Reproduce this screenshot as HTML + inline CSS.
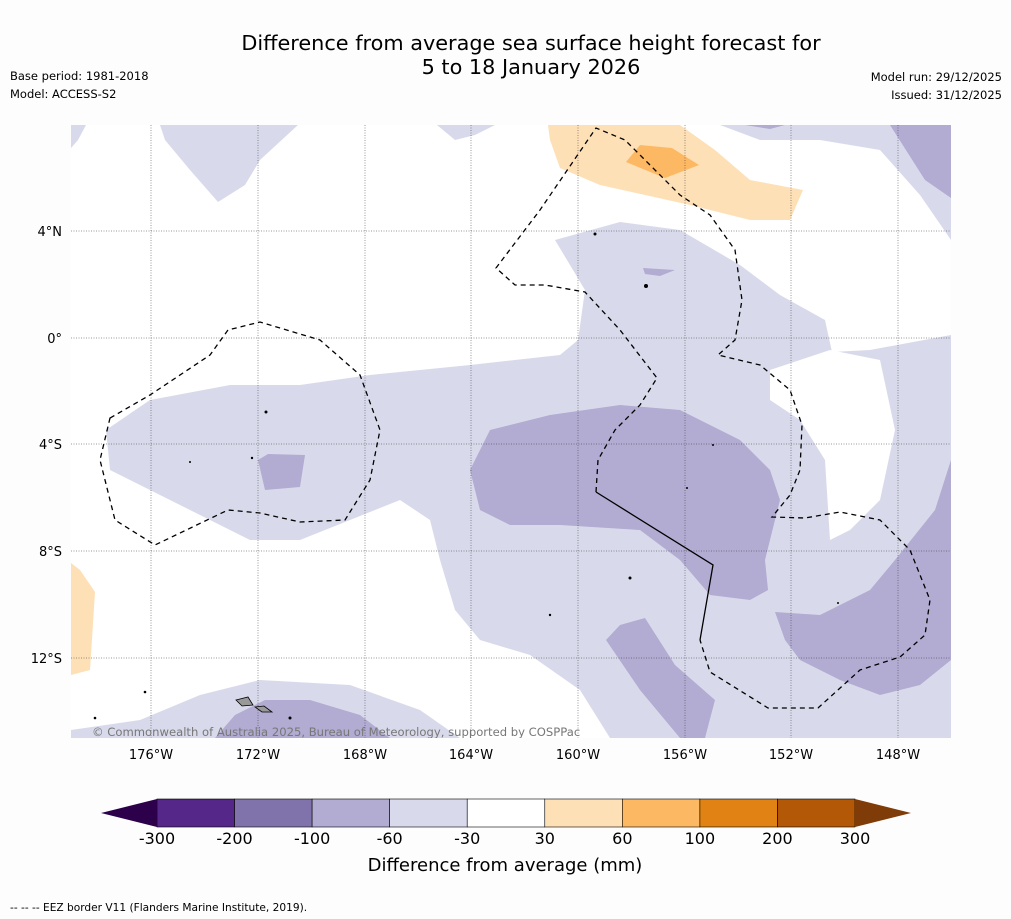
<!DOCTYPE html>
<html><head><meta charset="utf-8">
<style>
body{margin:0;background:#fff;width:1011px;height:919px;overflow:hidden;font-family:"DejaVu Sans","Liberation Sans",sans-serif}
svg{display:block}
</style></head><body>
<svg id="svg" width="1011" height="919" xmlns="http://www.w3.org/2000/svg" font-family="DejaVu Sans, Liberation Sans, sans-serif">
<rect width="1011" height="919" fill="#fdfdfd"/>
<text x="531" y="50" font-size="20.8" text-anchor="middle">Difference from average sea surface height forecast for</text>
<text x="531" y="74" font-size="20.8" text-anchor="middle">5 to 18 January 2026</text>
<text x="10" y="80" font-size="11.5">Base period: 1981-2018</text>
<text x="10" y="98" font-size="11.5">Model: ACCESS-S2</text>
<text x="1002" y="81" font-size="11.5" text-anchor="end">Model run: 29/12/2025</text>
<text x="1002" y="99" font-size="11.5" text-anchor="end">Issued: 31/12/2025</text>
<defs><clipPath id="mc"><rect x="71" y="125" width="880" height="613"/></clipPath></defs>
<g clip-path="url(#mc)">
<rect x="71" y="125" width="880" height="613" fill="#fff"/>
<g fill="#d8daeb">
<polygon points="106,430 150,400 230,385 300,385 370,375 470,365 560,355 578,340 585,290 555,240 620,222 680,230 740,265 780,295 825,320 832,352 870,350 951,335 951,738 610,738 580,690 530,655 480,640 455,610 440,560 430,520 400,500 350,520 300,540 250,540 200,515 150,490 110,470"/>
<polygon points="160,125 298,125 260,160 245,185 218,202 190,170 165,140"/>
<polygon points="71,125 86,125 78,140 71,148"/>
<polygon points="437,125 495,125 475,135 455,140"/>
<polygon points="720,125 890,125 951,160 951,240 920,195 880,150 820,140 760,140"/>
<polygon points="71,738 71,730 140,720 200,695 260,680 350,685 420,710 460,738"/>
</g>
<polygon fill="#fff" points="770,370 830,350 880,360 895,430 880,500 850,530 830,540 825,460 800,420 770,400"/>
<g fill="#b2abd2">
<polygon points="470,470 490,430 550,415 620,405 680,410 740,440 770,470 780,500 765,560 768,590 750,600 710,595 680,560 640,530 560,525 510,525 480,510"/>
<polygon points="775,612 820,615 870,590 895,560 935,510 951,460 951,660 920,685 880,695 840,680 800,660 785,640"/>
<polygon points="606,640 620,625 645,618 675,665 715,700 705,738 680,738 640,690"/>
<polygon points="258,460 268,454 305,455 300,487 265,490"/>
<polygon points="643,268 675,270 660,276 645,274"/>
<polygon points="890,125 951,125 951,198 925,180"/>
<polygon points="745,125 785,125 770,129"/>
<polygon points="215,738 235,715 265,700 310,700 360,715 390,738"/>
</g>
<g fill="#fee0b6">
<polygon points="548,125 680,125 715,150 750,180 803,190 790,220 750,220 690,205 600,185 560,168 550,140"/>
<polygon points="71,563 80,570 95,592 90,670 71,675"/>
</g>
<polygon fill="#fdb863" points="626,162 640,145 672,148 699,165 665,178"/>
<g stroke="#333" stroke-width="0.5" stroke-dasharray="1,1.5">
<line x1="151" y1="125" x2="151" y2="738"/><line x1="258" y1="125" x2="258" y2="738"/><line x1="365" y1="125" x2="365" y2="738"/><line x1="471" y1="125" x2="471" y2="738"/><line x1="578" y1="125" x2="578" y2="738"/><line x1="685" y1="125" x2="685" y2="738"/><line x1="791" y1="125" x2="791" y2="738"/><line x1="898" y1="125" x2="898" y2="738"/>
<line x1="71" y1="231" x2="951" y2="231"/><line x1="71" y1="338" x2="951" y2="338"/><line x1="71" y1="444" x2="951" y2="444"/><line x1="71" y1="551" x2="951" y2="551"/><line x1="71" y1="658" x2="951" y2="658"/>
</g>
<g fill="none" stroke="#000" stroke-width="1.3">
<polygon stroke-dasharray="5,4" points="110,418 150,395 210,355 228,330 260,322 320,340 360,375 380,430 370,480 345,520 300,522 260,513 228,510 155,545 115,520 100,460"/>
<polyline stroke-dasharray="5,4" points="596,492 598,460 615,430 640,405 657,378 620,330 585,292 545,285 515,285 496,268 540,210 596,128 625,140 680,195 710,215 735,250 742,300 735,340 718,355 760,365 790,390 802,425 800,470 790,495 772,517 805,518 840,512 880,520 910,550 930,600 925,635 900,657 860,670 818,708 768,708 710,672 700,640"/>
<polyline points="596,492 713,565 700,640"/>
</g>
<g fill="#000">
<circle cx="266" cy="412" r="1.5"/><circle cx="252" cy="458" r="1.2"/><circle cx="190" cy="462" r="1"/><circle cx="595" cy="234" r="1.5"/><circle cx="646" cy="286" r="2"/><circle cx="630" cy="578" r="1.5"/><circle cx="550" cy="615" r="1.2"/><circle cx="145" cy="692" r="1.3"/><circle cx="95" cy="718" r="1.3"/><circle cx="290" cy="718" r="1.5"/><circle cx="838" cy="603" r="1"/><circle cx="713" cy="445" r="1"/><circle cx="687" cy="488" r="1"/>
</g>
<polygon fill="#999" stroke="#000" stroke-width="0.8" points="236,700 248,697 253,705 242,706"/>
<polygon fill="#999" stroke="#000" stroke-width="0.8" points="255,707 264,706 272,712 262,712"/>
<text x="92" y="736" font-size="11.6" fill="#777">© Commonwealth of Australia 2025, Bureau of Meteorology, supported by COSPPac</text>
</g>
<g font-size="13" text-anchor="middle">
<text x="151" y="759">176°W</text><text x="258" y="759">172°W</text><text x="365" y="759">168°W</text><text x="471" y="759">164°W</text><text x="578" y="759">160°W</text><text x="685" y="759">156°W</text><text x="791" y="759">152°W</text><text x="898" y="759">148°W</text>
</g>
<g font-size="13" text-anchor="end">
<text x="62" y="236">4°N</text><text x="62" y="343">0°</text><text x="62" y="449">4°S</text><text x="62" y="556">8°S</text><text x="62" y="663">12°S</text>
</g>
<g id="cbar"></g>
<text x="505" y="871" font-size="18" text-anchor="middle">Difference from average (mm)</text>
<text x="10" y="911" font-size="10.6">--  --  -- EEZ border V11 (Flanders Marine Institute, 2019).</text>
</svg>
<script>
const binColors=["#542788","#8073ac","#b2abd2","#d8daeb","#ffffff","#fee0b6","#fdb863","#e08214","#b35806"];
const tickLabels=["-300","-200","-100","-60","-30","30","60","100","200","300"];
const underColor="#2d004b";
const overColor="#7f3b08";
const ns="http://www.w3.org/2000/svg";
const g=document.getElementById('cbar');
const x0=157,x1=855,y0=799,h=28;
const w=(x1-x0)/binColors.length;
function bx(i){return x0+i*w;}
binColors.forEach((c,i)=>{
  const r=document.createElementNS(ns,'rect');
  r.setAttribute('x',bx(i));r.setAttribute('y',y0);r.setAttribute('width',w);r.setAttribute('height',h);
  r.setAttribute('fill',c);r.setAttribute('stroke','#000');r.setAttribute('stroke-width','0.6');
  
  
  g.appendChild(r);
});
const l=document.createElementNS(ns,'polygon');
l.setAttribute('points',`${x0},${y0} ${x0-56},${y0+h/2} ${x0},${y0+h}`);l.setAttribute('fill',underColor);


g.appendChild(l);
const rr=document.createElementNS(ns,'polygon');
rr.setAttribute('points',`${x1},${y0} ${x1+56},${y0+h/2} ${x1},${y0+h}`);rr.setAttribute('fill',overColor);


g.appendChild(rr);
tickLabels.forEach((t,i)=>{
  const tx=document.createElementNS(ns,'text');
  tx.setAttribute('x',bx(i));tx.setAttribute('y',844);tx.setAttribute('font-size','16');tx.setAttribute('text-anchor','middle');
  tx.textContent=t;
  
  
  g.appendChild(tx);
});
</script>
</body></html>
